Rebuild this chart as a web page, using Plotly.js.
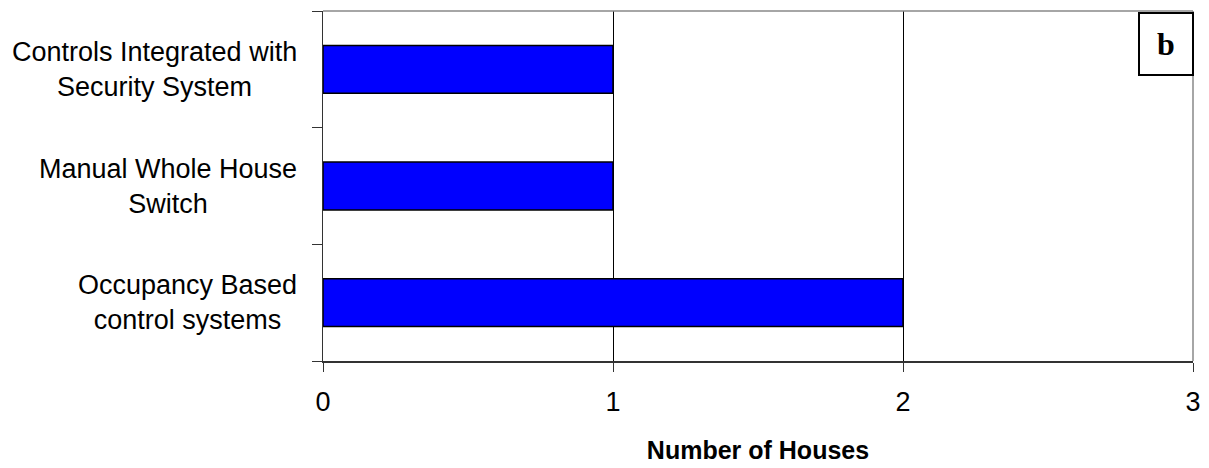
<!DOCTYPE html>
<html>
<head>
<meta charset="utf-8">
<script src="https://cdn.plot.ly/plotly-3.0.1.min.js"></script>
<style>html,body{margin:0;padding:0;background:#fff;}#chart{width:1209px;height:468px;}</style>
</head>
<body>
<div id="chart"></div>
<script>
const categories = ["Occupancy Based<br>control systems", "Manual Whole House<br>Switch", "Controls Integrated with<br>Security System"];
const values = [2, 1, 1];
const xTicks = [0, 1, 2, 3];
const xTitle = "Number of Houses";
const panelLabel = "b";

const annotations = categories.map(c => ({
  xref: 'paper', yref: 'y', x: 0, y: c, xanchor: 'right', yanchor: 'middle',
  xshift: -24, text: c, showarrow: false, align: 'center',
  font: {family: 'Liberation Sans, Arial, sans-serif', size: 27, color: '#000'}
}));
annotations.push({
  xref: 'paper', yref: 'paper', x: 1, y: 1, xanchor: 'right', yanchor: 'top',
  xshift: 1, yshift: -1,
  text: '<b>' + panelLabel + '</b>', showarrow: false,
  font: {family: 'Liberation Serif, Times New Roman, serif', size: 32, color: '#000'},
  bordercolor: '#000', borderwidth: 2, bgcolor: '#fff', width: 50, height: 58
});

const data = [{
  type: 'bar', orientation: 'h', y: categories, x: values,
  marker: {color: '#0000FF', line: {color: '#000', width: 1.5}},
  hoverinfo: 'none'
}];

const layout = {
  width: 1209, height: 468,
  margin: {l: 323, r: 16, t: 11, b: 107},
  paper_bgcolor: '#fff', plot_bgcolor: '#fff',
  showlegend: false, bargap: 0.59,
  xaxis: {
    range: [0, 3], tickvals: xTicks, ticktext: xTicks.map(String),
    showgrid: true, gridcolor: '#000', gridwidth: 1, zeroline: false,
    showline: true, linecolor: '#333', linewidth: 1.5,
    ticks: 'outside', ticklen: 9, tickcolor: '#333', tickwidth: 1,
    ticklabelstandoff: 7,
    tickfont: {family: 'Liberation Sans, Arial, sans-serif', size: 27, color: '#000'},
    title: {text: '<b>' + xTitle + '</b>', standoff: 25,
      font: {family: 'Liberation Sans, Arial, sans-serif', size: 25, color: '#000'}},
    fixedrange: true
  },
  yaxis: {
    type: 'category', categoryorder: 'array', categoryarray: categories,
    showticklabels: false, tickson: 'boundaries',
    ticks: 'outside', ticklen: 10, tickcolor: '#333', tickwidth: 1,
    showgrid: false, zeroline: false,
    showline: true, linecolor: '#333', linewidth: 1.5,
    fixedrange: true
  },
  shapes: [
    {type: 'line', xref: 'paper', yref: 'paper', x0: 0, x1: 1, y0: 1, y1: 1, line: {color: '#888', width: 1.5}},
    {type: 'line', xref: 'paper', yref: 'paper', x0: 1, x1: 1, y0: 0, y1: 1, line: {color: '#888', width: 1.5}}
  ],
  annotations: annotations
};

Plotly.newPlot('chart', data, layout, {displayModeBar: false, staticPlot: true});
</script>
</body>
</html>
